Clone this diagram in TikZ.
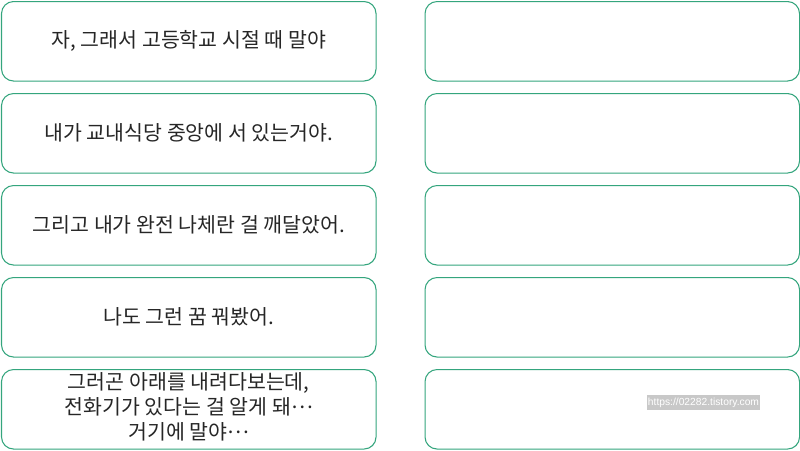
\documentclass[tikz,border=0pt]{standalone}
\usepackage{fontspec}
\setmainfont{Noto Sans CJK KR}
\newfontfamily\wmfont{Liberation Sans}
\definecolor{boxgreen}{RGB}{52,165,125}
\definecolor{wmgray}{RGB}{200,200,200}
\newcommand{\middots}{\raisebox{0.3em}{…}}
\begin{document}
\begin{tikzpicture}[x=0.75pt,y=-0.75pt,
  card/.style={draw=boxgreen,line width=0.8pt,rounded corners=9pt,fill=white,
    minimum width=374.5*0.75pt,minimum height=79.5*0.75pt,anchor=north west,
    inner sep=0pt,align=center,font=\fontsize{15.4pt}{19.5pt}\selectfont,text=black!85},
  wmark/.style={fill=wmgray,text=white,inner xsep=1pt,inner ysep=1.8pt,font=\wmfont\fontsize{7.7pt}{8pt}\selectfont}]
\useasboundingbox (0,0) rectangle (800,450);
\node[card] (l1) at (1,1) {자, 그래서 고등학교 시절 때 말야};
\node[card] (l2) at (1,93) {내가 교내식당 중앙에 서 있는거야.};
\node[card] (l3) at (1,185) {그리고 내가 완전 나체란 걸 깨달았어.};
\node[card] (l4) at (1,277) {나도 그런 꿈 꿔봤어.};
\node[card] (l5) at (1,369) {\raisebox{2pt}{\begin{tabular}{@{}c@{}}그러곤 아래를 내려다보는데,\\[-0.5pt]전화기가 있다는 걸 알게 돼\middots\\[-0.5pt]거기에 말야\middots\end{tabular}}};
\node[card] (r1) at (424.5,1) {};
\node[card] (r2) at (424.5,93) {};
\node[card] (r3) at (424.5,185) {};
\node[card] (r4) at (424.5,277) {};
\node[card] (r5) at (424.5,369) {};
\node[wmark] (wm) at (703.5,402.5) {https://02282.tistory.com};
\end{tikzpicture}
\end{document}
